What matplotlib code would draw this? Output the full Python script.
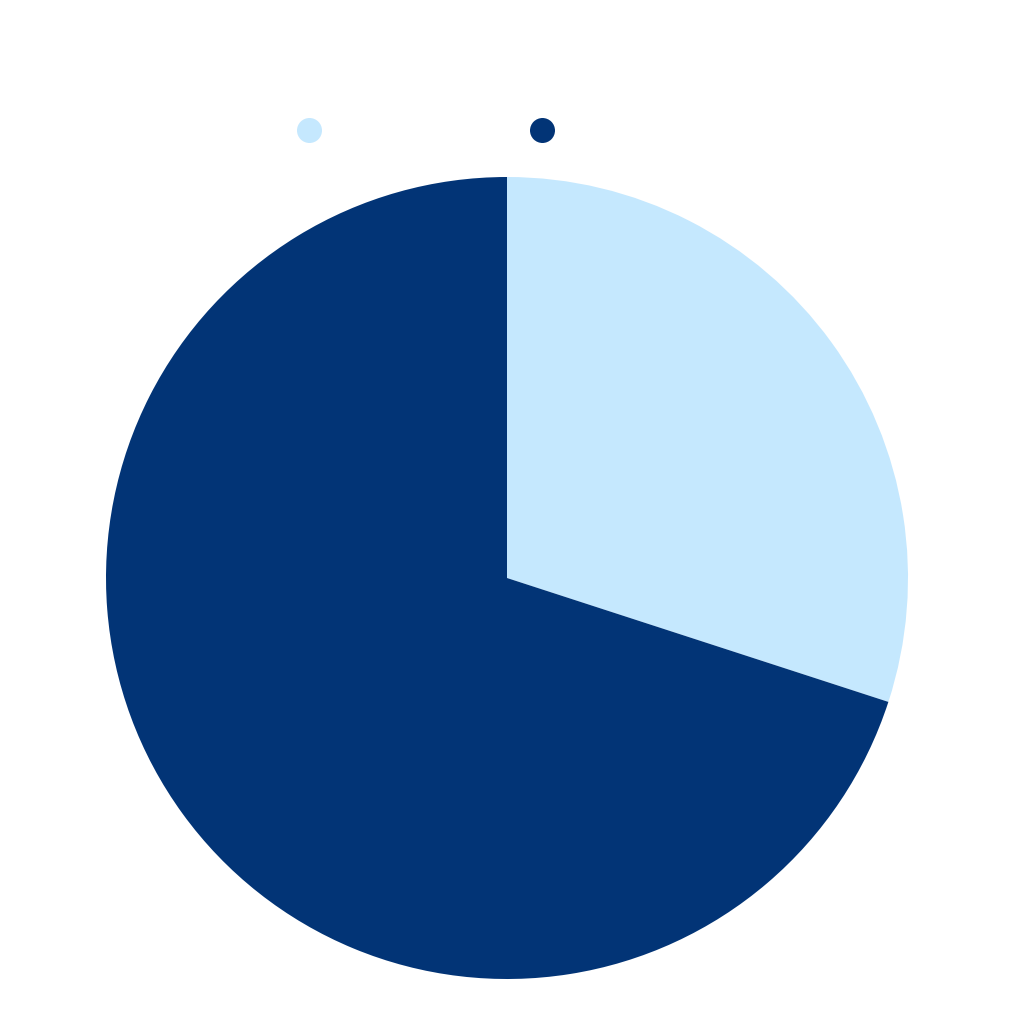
import matplotlib.pyplot as plt
from matplotlib.lines import Line2D

labels = ['Category A', 'Category B']
values = [30, 70]
colors = ['#c5e8fe', '#023476']

fig = plt.figure(figsize=(10.24, 10.24), dpi=100)
# pie centre at (507, 446) px from bottom-left, radius 401 px
r = 401 / 1024
ax = fig.add_axes([507 / 1024 - r, 446 / 1024 - r, 2 * r, 2 * r])
ax.pie(values, colors=colors, startangle=90, counterclock=False, radius=1,
       wedgeprops=dict(linewidth=0))
ax.set_xlim(-1, 1)
ax.set_ylim(-1, 1)
ax.set_aspect('equal')
ax.axis('off')

handles = [Line2D([], [], marker='o', linestyle='', markersize=18,
                  markerfacecolor=c, markeredgewidth=0) for c in colors]
leg = fig.legend(handles, labels, loc='center left',
                 bbox_to_anchor=(299 / 1024, 1 - 131 / 1024), ncol=2,
                 frameon=False, fontsize=14, handletextpad=0.4,
                 columnspacing=4.98, labelcolor='white', borderpad=0,
                 borderaxespad=0, handlelength=1.0)

fig.savefig('out.png', dpi=100)
